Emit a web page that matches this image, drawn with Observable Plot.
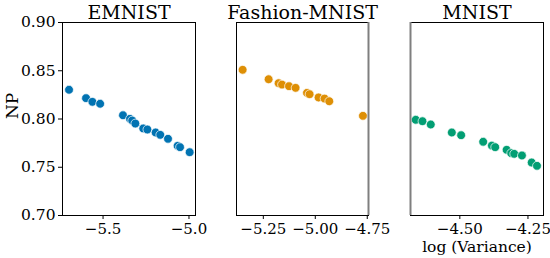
<!DOCTYPE html>
<html>
<head>
<meta charset="utf-8">
<script src="https://cdn.jsdelivr.net/npm/d3@7"></script>
<script src="https://cdn.jsdelivr.net/npm/@observablehq/plot@0.6"></script>
<style>
  html, body { margin: 0; padding: 0; background: #fff; }
  #chart { position: relative; width: 550px; height: 258px; overflow: hidden; }
  #chart svg { position: absolute; top: 0; }
</style>
</head>
<body>
<div id="chart"></div>
<script>
const titles = ["EMNIST", "Fashion-MNIST", "MNIST"];
const colors = ["#0173b2", "#de8f05", "#029e73"];

const emnistX = [-5.698, -5.599, -5.562, -5.517, -5.384, -5.343, -5.330, -5.312, -5.266, -5.242, -5.194, -5.167, -5.122, -5.066, -5.052, -4.996];
const emnistY = [0.8303, 0.8216, 0.8178, 0.8158, 0.8039, 0.8002, 0.7984, 0.7953, 0.7902, 0.7891, 0.7860, 0.7836, 0.7795, 0.7722, 0.7708, 0.7656];

const fashionX = [-5.3495, -5.2245, -5.1764, -5.160, -5.1264, -5.0947, -5.0399, -5.0274, -4.9841, -4.9553, -4.9327, -4.7707];
const fashionY = [0.8510, 0.8412, 0.8371, 0.8357, 0.8340, 0.8323, 0.8271, 0.8257, 0.8223, 0.8212, 0.8184, 0.8033];

const mnistX = [-4.6618, -4.6371, -4.6066, -4.5294, -4.4952, -4.4143, -4.3824, -4.3702, -4.3283, -4.3114, -4.3004, -4.2721, -4.2364, -4.2169];
const mnistY = [0.7992, 0.7977, 0.7943, 0.7860, 0.7832, 0.7764, 0.7725, 0.7708, 0.7681, 0.7646, 0.7639, 0.7622, 0.7549, 0.7515];

const xDomains = [[-5.736, -4.962], [-5.379, -4.744], [-4.681, -4.193]];
const yDomain = [0.70, 0.90];
const xTicks = [[-5.5, -5.0], [-5.25, -5.00, -4.75], [-4.50, -4.25]];
const xTickFormats = [".1f", ".2f", ".2f"];
const yTicks = [0.70, 0.75, 0.80, 0.85, 0.90];
const yLabel = "NP";
const xLabel = "log (Variance)";

const series = [[emnistX, emnistY], [fashionX, fashionY], [mnistX, mnistY]];

const layout = [
  {left: 0, width: 215, ml: 62, mr: 20},
  {left: 215, width: 175, ml: 21, mr: 22},
  {left: 390, width: 160, ml: 20, mr: 7}
];

const font = "'DejaVu Serif', serif";
const chart = document.getElementById("chart");

series.forEach(([xs, ys], i) => {
  const data = xs.map((x, j) => ({x, y: ys[j]}));
  const L = layout[i];
  const marks = [
    Plot.frame({stroke: "black", strokeWidth: 1}),
    Plot.dot(data, {x: "x", y: "y", r: 4.4, fill: colors[i], stroke: "white", strokeWidth: 0.7}),
    Plot.axisX({ticks: xTicks[i], tickFormat: d3.format(xTickFormats[i]), tickSize: 4, tickPadding: 4, label: null, fontSize: 15}),
    Plot.text([titles[i]], {frameAnchor: "top", dy: -4, lineAnchor: "bottom", fontSize: 19, fill: "black"})
  ];
  if (i === 0) {
    marks.push(Plot.axisY({ticks: yTicks, tickFormat: d3.format(".2f"), tickSize: 4, tickPadding: 3, label: null, fontSize: 15.5}));
    marks.push(Plot.text([yLabel], {frameAnchor: "left", dx: -50, rotate: -90, fontSize: 17, fill: "black"}));
  }
  if (i === 1) {
    marks.push(Plot.ruleX([xDomains[i][1]], {stroke: "#7f7f7f", strokeWidth: 2}));
  }
  if (i === 2) {
    marks.push(Plot.ruleX([xDomains[i][0]], {stroke: "#7f7f7f", strokeWidth: 2}));
    marks.push(Plot.text([xLabel], {frameAnchor: "bottom", dy: 32, lineAnchor: "middle", fontSize: 15.5, fill: "black"}));
  }
  const svg = Plot.plot({
    width: L.width,
    height: 258,
    marginLeft: L.ml,
    marginRight: L.mr,
    marginTop: 22,
    marginBottom: 43,
    x: {domain: xDomains[i], axis: null},
    y: {domain: yDomain, axis: null},
    style: {fontFamily: font, fontSize: "15px", color: "black", background: "transparent", overflow: "visible"},
    marks
  });
  svg.style.left = L.left + "px";
  chart.appendChild(svg);
});
</script>
</body>
</html>
